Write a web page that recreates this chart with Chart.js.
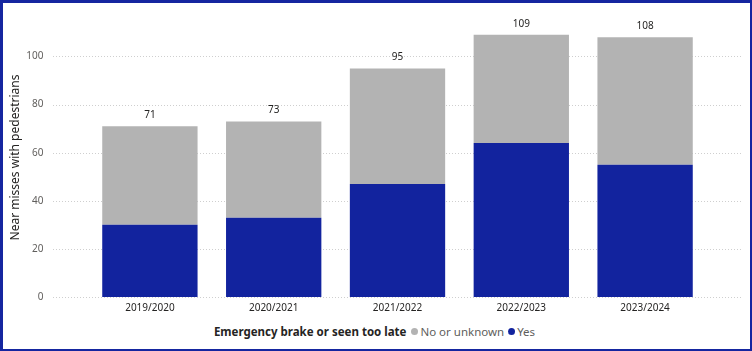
<!DOCTYPE html>
<html>
<head>
<meta charset="utf-8">
<script src="https://cdn.jsdelivr.net/npm/chart.js@4.4.1/dist/chart.umd.min.js"></script>
<style>
  html, body { margin: 0; padding: 0; background: #fff; }
  #frame {
    position: relative;
    width: 752px; height: 351px;
    box-sizing: border-box;
    border-style: solid;
    border-color: #1526a0;
    border-width: 3px 2px 2px 3px;
    font-family: "Noto Sans", sans-serif;
  }
  #chart { position: absolute; left: 0; top: 0; }
  #legend {
    position: absolute; left: 0; right: 0; top: 321px;
    display: flex; justify-content: center; align-items: center;
    font-size: 11.5px; color: #252423; white-space: nowrap;
  }
  #legend b { margin-right: 5px; }
  .dot { display: inline-block; width: 7px; height: 7px; border-radius: 50%; margin-right: 2px; }
  .item { display: flex; align-items: center; margin-right: 4px; color: #605e5c; }
</style>
</head>
<body>
<div id="frame">
  <canvas id="chart" width="747" height="320"></canvas>
  <div id="legend"></div>
</div>
<script>
const years = ['2019/2020', '2020/2021', '2021/2022', '2022/2023', '2023/2024'];
const yesValues = [30, 33, 47, 64, 55];
const noValues = [41, 40, 48, 45, 53];
const yTicks = [0, 20, 40, 60, 80, 100];

const blue = '#12239e';
const grey = '#b3b3b3';

// dotted gridlines that run wider than the category area
const gridPlugin = {
  id: 'dotGrid',
  beforeDatasetsDraw(chart) {
    const ctx = chart.ctx;
    const y = chart.scales.y;
    ctx.save();
    ctx.strokeStyle = '#cfcfcf';
    ctx.lineWidth = 1;
    ctx.setLineDash([1, 2]);
    yTicks.forEach(function (v) {
      const py = Math.round(y.getPixelForValue(v)) + 0.5;
      ctx.beginPath();
      ctx.moveTo(50, py);
      ctx.lineTo(740, py);
      ctx.stroke();
    });
    ctx.restore();
  }
};

// totals above each stack
const totalsPlugin = {
  id: 'totals',
  afterDatasetsDraw(chart) {
    const ctx = chart.ctx;
    const top = chart.getDatasetMeta(1);
    ctx.save();
    ctx.font = '10px "Noto Sans", sans-serif';
    ctx.fillStyle = '#252423';
    ctx.textAlign = 'center';
    ctx.textBaseline = 'middle';
    years.forEach(function (_, i) {
      const bar = top.data[i];
      ctx.fillText(String(yesValues[i] + noValues[i]), bar.x, bar.y - 11);
    });
    ctx.restore();
  }
};

new Chart(document.getElementById('chart'), {
  type: 'bar',
  data: {
    labels: years,
    datasets: [
      { label: 'Yes', data: yesValues, backgroundColor: blue, barPercentage: 0.77, categoryPercentage: 1 },
      { label: 'No or unknown', data: noValues, backgroundColor: grey, barPercentage: 0.77, categoryPercentage: 1 }
    ]
  },
  options: {
    responsive: false,
    animation: false,
    layout: { padding: { left: 0, right: 43, top: 15, bottom: 0 } },
    plugins: { legend: { display: false }, tooltip: { enabled: false } },
    scales: {
      x: {
        stacked: true,
        grid: { display: false, drawTicks: false },
        border: { display: false },
        ticks: { padding: 5, color: '#252423', font: { family: 'Noto Sans', size: 10 }, maxRotation: 0 },
        afterFit(scale) {
          scale.height = 26;
          scale.paddingLeft = 0;
          scale.paddingRight = 0;
        }
      },
      y: {
        stacked: true,
        min: 0,
        max: 116,
        grid: { display: false, drawTicks: false },
        border: { display: false },
        afterBuildTicks(scale) { scale.ticks = yTicks.map(function (v) { return { value: v }; }); },
        ticks: { padding: 44.5, color: '#605e5c', font: { family: 'Noto Sans', size: 10 } },
        title: {
          display: true,
          text: 'Near misses with pedestrians',
          color: '#252423',
          font: { family: 'Noto Sans', size: 12 },
          padding: { top: 5, bottom: 0 }
        },
        afterFit(scale) {
          scale.width = 85;
          scale.paddingTop = 0;
          scale.paddingBottom = 0;
        }
      }
    }
  },
  plugins: [gridPlugin, totalsPlugin]
});

// legend: title inline with the items, grey first
const legend = document.getElementById('legend');
legend.innerHTML = '<b>Emergency brake or seen too late</b>' +
  '<span class="item"><span class="dot" style="background:' + grey + '"></span>No or unknown</span>' +
  '<span class="item"><span class="dot" style="background:' + blue + '"></span>Yes</span>';
</script>
</body>
</html>
